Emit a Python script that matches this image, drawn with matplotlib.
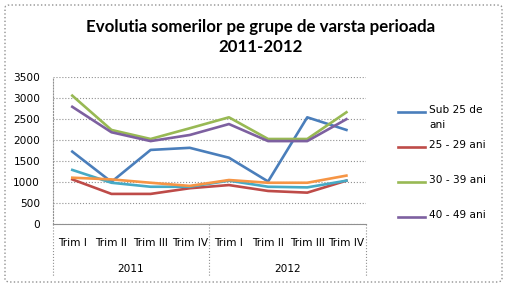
import matplotlib
matplotlib.use('Agg')
from matplotlib import pyplot as plt
from matplotlib.lines import Line2D
from matplotlib.patches import FancyBboxPatch
import matplotlib.transforms as mtrans

plt.rcParams['font.family'] = ['DejaVu Sans']

trim = ['Trim I', 'Trim II', 'Trim III', 'Trim IV', 'Trim I', 'Trim II', 'Trim III', 'Trim IV']
years = ['2011', '2012']
sub25 = [1720, 1000, 1760, 1810, 1575, 1010, 2535, 2235]
a25_29 = [1060, 715, 715, 850, 925, 785, 745, 1030]
a30_39 = [3050, 2235, 2020, 2275, 2535, 2020, 2020, 2655]
a40_49 = [2785, 2180, 1970, 2115, 2375, 1970, 1970, 2490]
a50_59 = [1285, 980, 885, 885, 1030, 885, 870, 1030]
peste50 = [1100, 1060, 980, 905, 1045, 980, 980, 1150]

series = [('Sub 25 de\nani', sub25, '#4A7EBB'),
          ('25 - 29 ani', a25_29, '#BE4B48'),
          ('30 - 39 ani', a30_39, '#98B954'),
          ('40 - 49 ani', a40_49, '#7D60A0'),
          ('50 - 59 ani', a50_59, '#46AAC5'),
          ('peste 60 ani', peste50, '#F69545')]

fs = 7.6
fig = plt.figure(figsize=(5.11, 2.89), dpi=100)
W, H = 511.0, 289.0
ax = fig.add_axes([52.7 / W, 1 - 224 / H, 313.3 / W, 147.3 / H])

x = list(range(len(trim)))
for name, vals, c in series:
    ax.plot(x, vals, color=c, lw=1.9, solid_joinstyle='round')

ax.set_xlim(-0.5, len(trim) - 0.5)
ax.set_ylim(0, 3500)
ax.set_yticks(range(0, 3501, 500))
ax.set_xticks([])
ax.tick_params(axis='y', length=0, pad=9, labelsize=fs)
for s in ['top', 'right', 'bottom']:
    ax.spines[s].set_visible(False)
ax.spines['left'].set_color('#909090')
ax.spines['left'].set_linestyle(':')
ax.grid(axis='y', color='#909090', ls=':', lw=0.8)
ax.set_axisbelow(True)

# two level category axis
tr = mtrans.blended_transform_factory(ax.transData, ax.transAxes)
ax.plot([-0.5, 7.5], [0, 0], transform=tr, color='#909090', lw=0.8, clip_on=False)
for xv in [-0.5, 3.5, 7.5]:
    ax.plot([xv, xv], [0, -0.36], transform=tr, color='#909090', lw=0.8, ls=':', clip_on=False)
for i, t in enumerate(trim):
    ax.text(i, -0.13, t, transform=tr, ha='center', va='center', fontsize=fs)
for j, yr in enumerate(years):
    ax.text(1.5 + 4 * j, -0.305, yr, transform=tr, ha='center', va='center', fontsize=fs)

fig.text(261 / W, 1 - 27 / H, 'Evolutia somerilor pe grupe de varsta perioada',
         ha='center', va='center', fontsize=12.2, fontweight='bold', family='Lato')
fig.text(261 / W, 1 - 47 / H, '2011-2012', ha='center', va='center',
         fontsize=12.2, fontweight='bold', family='Lato')

# legend (only four entries visible)
ly = [112, 147, 182, 217]
for (name, vals, c), yy in zip(series[:4], ly):
    fig.add_artist(Line2D([398 / W, 425 / W], [1 - yy / H] * 2, color=c, lw=1.9))
    fig.text(429 / W, 1 - (yy - 7) / H, name, ha='left', va='top', fontsize=fs,
             linespacing=1.6)

fig.add_artist(FancyBboxPatch((5 / W, 1 - 282 / H), 497 / W, 277 / H,
                              boxstyle='round,pad=0,rounding_size=0.01',
                              transform=fig.transFigure, fill=False,
                              ec='#909090', ls=':', lw=1))

fig.savefig('out.png', dpi=100)
